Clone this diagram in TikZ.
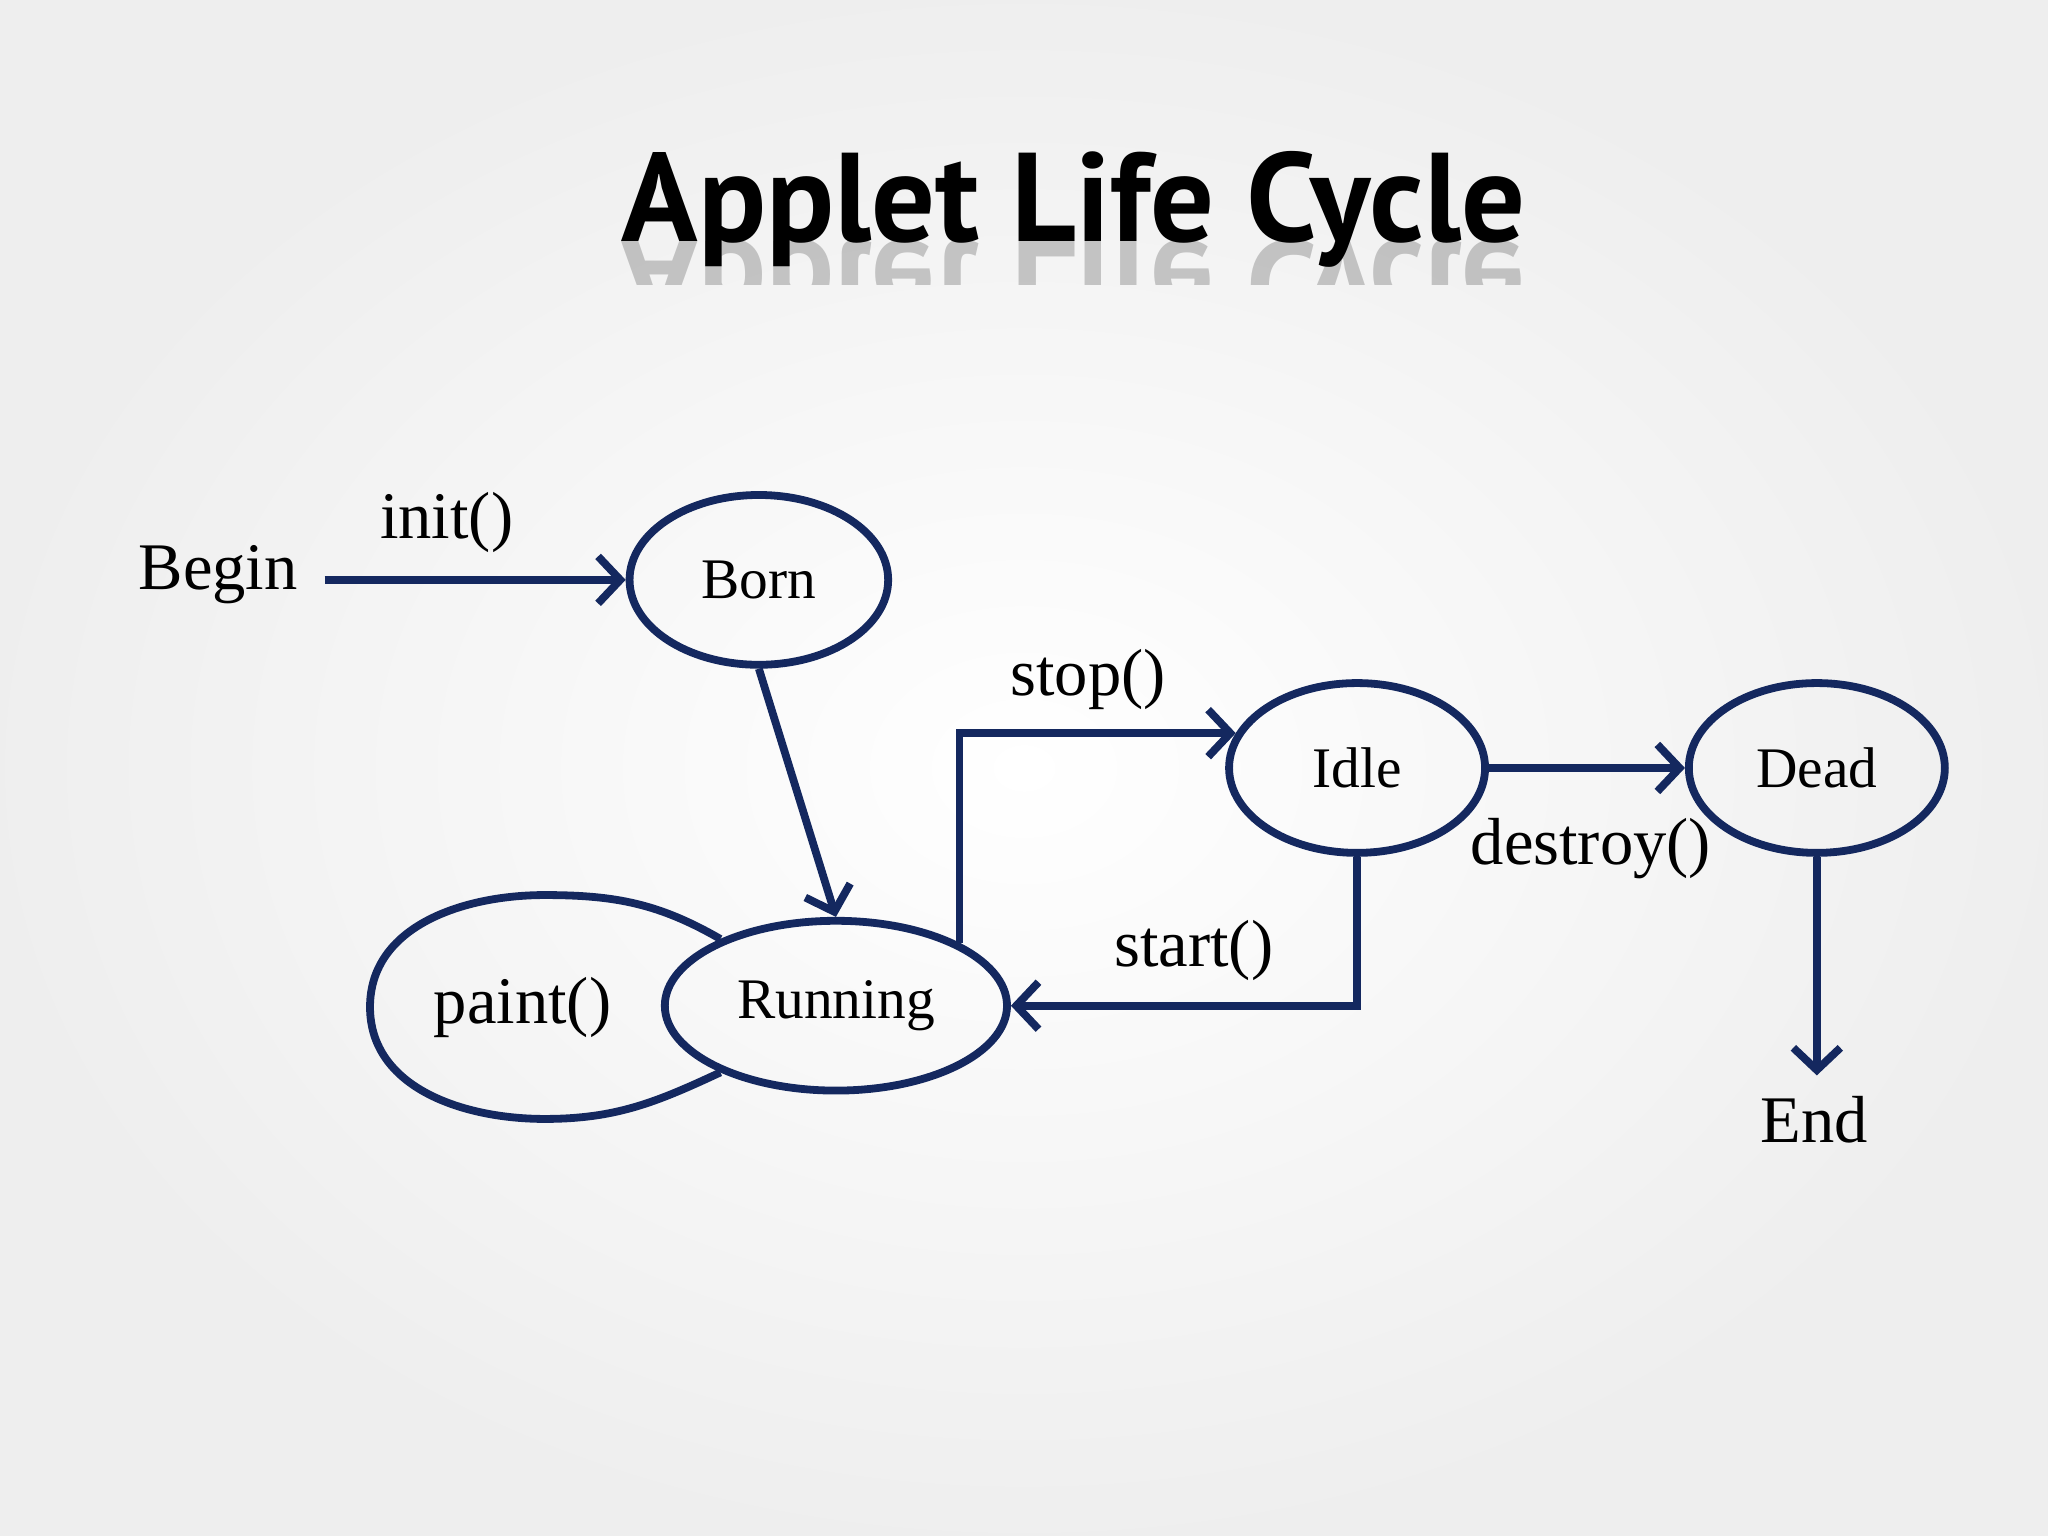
\documentclass[tikz,border=0pt]{standalone}
\usepackage{fontspec}
\usepackage{xcolor}
\setmainfont{Liberation Serif}
\newfontfamily\titlefont{PT Sans}
\usetikzlibrary{shapes.geometric, arrows.meta, positioning}
\definecolor{navy}{HTML}{14285F}
\tikzset{
  state/.style={ellipse, draw=navy, line width=1.7pt, inner sep=0pt,
    font=\fontsize{12.5}{14}\selectfont},
  lbl/.style={font=\fontsize{14.5}{17}\selectfont, inner sep=0pt},
  arr/.style={draw=navy, line width=1.7pt,
    -{Straight Barb[length=1.7mm, width=3.6mm, line width=1.7pt]}},
  loopline/.style={draw=navy, line width=1.7pt},
  title/.style={font=\titlefont\bfseries\fontsize{27.5}{32}\selectfont, inner sep=0pt}
}
\begin{document}
\begin{tikzpicture}
        \shade[inner color=white, outer color=gray!13] (0,0) rectangle (15.68,11.76);
        \useasboundingbox (0,0) rectangle (15.68,11.76);

        \node[title, anchor=base] (ttl) at (8.22,9.91) {Applet Life Cycle};
        \begin{scope}
          \clip (4,9.58) rectangle (12.5,9.91);
          \node[title, anchor=base, yscale=-1, opacity=0.2] (ttlr) at (8.22,9.91) {Applet Life Cycle};
        \end{scope}

        \node[lbl, inner xsep=0.2cm] (bgn) at (1.67,7.36) {Begin};
        \node[state, minimum width=1.98cm, minimum height=1.30cm] (born) at (5.81,7.32) {Born};
        \node[state, minimum width=2.62cm, minimum height=1.30cm] (run) at (6.40,4.06) {Running};
        \node[state, minimum width=1.96cm, minimum height=1.30cm] (idle) at (10.39,5.88) {Idle};
        \node[state, minimum width=1.96cm, minimum height=1.30cm] (dead) at (13.91,5.88) {Dead};
        \node[lbl, inner ysep=0.15cm] (end) at (13.89,3.19) {End};
        \node[ellipse, minimum width=2.66cm, minimum height=1.7cm] (loop) at (4.17,4.05) {};
        \node[lbl] (paint) at (4.00,4.05) {paint()};

        \node[lbl] (init) at (3.42,7.76) {init()};
        \node[lbl] (stop) at (8.33,6.56) {stop()};
        \node[lbl] (start) at (9.14,4.48) {start()};
        \node[lbl] (destroy) at (12.18,5.26) {destroy()};

        \draw[arr] (bgn.east |- born.west) -- (born.west);
        \draw[arr] (born.south) -- (run.north);
        \draw[arr] (run.27) |- (idle.164);
        \draw[arr] (idle.south) |- (run.east);
        \draw[arr] (idle.east) -- (dead.west);
        \draw[arr] (dead.south) -- (dead.south |- end.north);
        \draw[loopline] (run.150) to[out=150, in=0] (loop.north)
          to[out=180, in=90] (loop.west) to[out=-90, in=180] (loop.south)
          to[out=0, in=205] (run.210);

      \end{tikzpicture}
\end{document}
